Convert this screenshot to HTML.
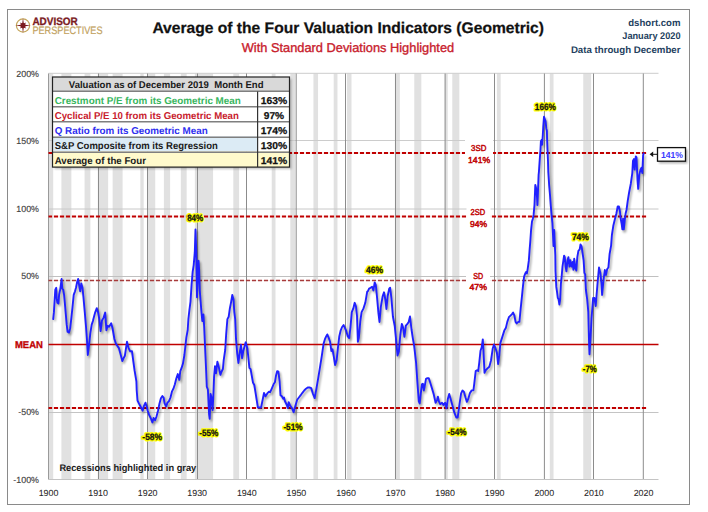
<!DOCTYPE html>
<html><head><meta charset="utf-8"><style>
html,body{margin:0;padding:0;background:#fff;width:708px;height:512px;overflow:hidden}
svg{display:block;font-family:"Liberation Sans", sans-serif}
</style></head><body>
<svg width="708" height="512" viewBox="0 0 708 512" text-rendering="geometricPrecision">
<defs><filter id="blur" x="-5%" y="-5%" width="110%" height="110%"><feGaussianBlur stdDeviation="0.9"/></filter></defs>
<rect x="0" y="0" width="708" height="512" fill="#FFFFFF"/>
<rect x="7.5" y="9.5" width="682" height="495" fill="#FFFFFF" stroke="#8A8A8A" stroke-width="1"/>

<g>
<circle cx="23" cy="25.5" r="6.6" fill="none" stroke="#C4A55A" stroke-width="1.2"/>
<path d="M23.00,17.90 L23.80,23.56 L25.97,22.53 L24.94,24.70 L30.60,25.50 L24.94,26.30 L25.97,28.47 L23.80,27.44 L23.00,33.10 L22.20,27.44 L20.03,28.47 L21.06,26.30 L15.40,25.50 L21.06,24.70 L20.03,22.53 L22.20,23.56 Z" fill="#7B1A1F"/>
<circle cx="23" cy="25.5" r="2.5" fill="#7B1A1F"/>
</g>

<text x="32.4" y="25.2" font-size="10.8" fill="#7B1A1F" font-weight="bold" text-anchor="start" textLength="45.4" lengthAdjust="spacingAndGlyphs" stroke="#7B1A1F" stroke-width="0.3">ADVISOR</text>
<text x="32.4" y="33.8" font-size="10.8" fill="#C2A260" font-weight="normal" text-anchor="start" textLength="70.1" lengthAdjust="spacingAndGlyphs" stroke="#C2A260" stroke-width="0.2">PERSPECTIVES</text>
<text x="152.4" y="33.3" font-size="15.4" fill="#111111" font-weight="bold" text-anchor="start" textLength="391.6" lengthAdjust="spacingAndGlyphs" stroke="#111" stroke-width="0.25">Average of the Four Valuation Indicators (Geometric)</text>
<text x="241.7" y="51.8" font-size="12.8" fill="#C8202C" font-weight="normal" text-anchor="start" textLength="212.5" lengthAdjust="spacingAndGlyphs" stroke="#C8202C" stroke-width="0.35">With Standard Deviations Highlighted</text>
<text x="680.5" y="25.8" font-size="9.6" fill="#243F60" font-weight="bold" text-anchor="end">dshort.com</text>
<text x="680.5" y="39.3" font-size="9.6" fill="#243F60" font-weight="bold" text-anchor="end" textLength="58.2" lengthAdjust="spacingAndGlyphs">January 2020</text>
<text x="680.5" y="52.5" font-size="9.6" fill="#243F60" font-weight="bold" text-anchor="end" textLength="109.6" lengthAdjust="spacingAndGlyphs">Data through December</text>
<rect x="48.50" y="73.5" width="4.69" height="406.0" fill="#E1E1E1"/>
<rect x="61.42" y="73.5" width="9.95" height="406.0" fill="#E1E1E1"/>
<rect x="84.56" y="73.5" width="5.82" height="406.0" fill="#E1E1E1"/>
<rect x="97.78" y="73.5" width="10.37" height="406.0" fill="#E1E1E1"/>
<rect x="112.65" y="73.5" width="9.95" height="406.0" fill="#E1E1E1"/>
<rect x="140.34" y="73.5" width="3.34" height="406.0" fill="#E1E1E1"/>
<rect x="147.36" y="73.5" width="7.89" height="406.0" fill="#E1E1E1"/>
<rect x="163.89" y="73.5" width="6.23" height="406.0" fill="#E1E1E1"/>
<rect x="180.83" y="73.5" width="5.82" height="406.0" fill="#E1E1E1"/>
<rect x="194.87" y="73.5" width="18.22" height="406.0" fill="#E1E1E1"/>
<rect x="233.30" y="73.5" width="5.82" height="406.0" fill="#E1E1E1"/>
<rect x="271.72" y="73.5" width="3.76" height="406.0" fill="#E1E1E1"/>
<rect x="290.32" y="73.5" width="4.99" height="406.0" fill="#E1E1E1"/>
<rect x="313.45" y="73.5" width="4.58" height="406.0" fill="#E1E1E1"/>
<rect x="333.70" y="73.5" width="3.76" height="406.0" fill="#E1E1E1"/>
<rect x="346.92" y="73.5" width="4.58" height="406.0" fill="#E1E1E1"/>
<rect x="394.85" y="73.5" width="4.99" height="406.0" fill="#E1E1E1"/>
<rect x="414.27" y="73.5" width="7.06" height="406.0" fill="#E1E1E1"/>
<rect x="444.84" y="73.5" width="2.93" height="406.0" fill="#E1E1E1"/>
<rect x="452.28" y="73.5" width="7.06" height="406.0" fill="#E1E1E1"/>
<rect x="496.90" y="73.5" width="3.76" height="406.0" fill="#E1E1E1"/>
<rect x="549.78" y="73.5" width="3.76" height="406.0" fill="#E1E1E1"/>
<rect x="583.25" y="73.5" width="7.89" height="406.0" fill="#E1E1E1"/>
<line x1="48.5" y1="73.3" x2="658.5" y2="73.3" stroke="#CCCCCC" stroke-width="1"/>
<line x1="48.5" y1="140.5" x2="658.5" y2="140.5" stroke="#CCCCCC" stroke-width="1"/>
<line x1="48.5" y1="209.0" x2="658.5" y2="209.0" stroke="#C8C8C8" stroke-width="1"/>
<line x1="48.5" y1="276.5" x2="658.5" y2="276.5" stroke="#C0C0C0" stroke-width="1"/>
<line x1="48.5" y1="412.5" x2="658.5" y2="412.5" stroke="#C4C4C4" stroke-width="1"/>
<line x1="98.5" y1="73.5" x2="98.5" y2="479.5" stroke="#8C8C8C" stroke-width="1"/>
<line x1="147.5" y1="73.5" x2="147.5" y2="479.5" stroke="#8C8C8C" stroke-width="1"/>
<line x1="197.5" y1="73.5" x2="197.5" y2="479.5" stroke="#8C8C8C" stroke-width="1"/>
<line x1="246.5" y1="73.5" x2="246.5" y2="479.5" stroke="#8C8C8C" stroke-width="1"/>
<line x1="296.2" y1="73.5" x2="296.2" y2="479.5" stroke="#8C8C8C" stroke-width="1"/>
<line x1="345.5" y1="73.5" x2="345.5" y2="479.5" stroke="#8C8C8C" stroke-width="1"/>
<line x1="395.5" y1="73.5" x2="395.5" y2="479.5" stroke="#8C8C8C" stroke-width="1"/>
<line x1="445.1" y1="73.5" x2="445.1" y2="479.5" stroke="#8C8C8C" stroke-width="1"/>
<line x1="494.5" y1="73.5" x2="494.5" y2="479.5" stroke="#8C8C8C" stroke-width="1"/>
<line x1="544.4" y1="73.5" x2="544.4" y2="479.5" stroke="#8C8C8C" stroke-width="1"/>
<line x1="593.5" y1="73.5" x2="593.5" y2="479.5" stroke="#8C8C8C" stroke-width="1"/>
<line x1="643.3" y1="73.5" x2="643.3" y2="479.5" stroke="#8C8C8C" stroke-width="1"/>
<line x1="48.5" y1="73.5" x2="48.5" y2="479.5" stroke="#9A9A9A" stroke-width="1"/>
<line x1="48.5" y1="479.5" x2="658.5" y2="479.5" stroke="#C4C4C4" stroke-width="1"/>
<line x1="48.5" y1="153" x2="646.5" y2="153" stroke="#C00000" stroke-width="2" stroke-dasharray="4.2 1.8" stroke-dashoffset="0.6"/>
<line x1="48.5" y1="216.5" x2="646.5" y2="216.5" stroke="#C00000" stroke-width="2" stroke-dasharray="4.2 1.8" stroke-dashoffset="0.6"/>
<line x1="48.5" y1="280.5" x2="646.5" y2="280.5" stroke="#A83A3A" stroke-width="1.3" stroke-dasharray="4.2 1.8" stroke-dashoffset="0.6"/>
<line x1="48.5" y1="408" x2="646.5" y2="408" stroke="#C00000" stroke-width="2" stroke-dasharray="4.2 1.8" stroke-dashoffset="0.6"/>
<line x1="48.5" y1="344.5" x2="658.5" y2="344.5" stroke="#C00000" stroke-width="1.6"/>
<rect x="465" y="139" width="28" height="27" fill="#FFFFFF"/>
<rect x="466.5" y="207" width="24" height="23" fill="#FFFFFF"/>
<rect x="466" y="270" width="24" height="23" fill="#FFFFFF"/>
<text x="471.1" y="151.0" font-size="8.6" fill="#C00000" font-weight="normal" text-anchor="start" textLength="15.3" lengthAdjust="spacingAndGlyphs" stroke="#C00000" stroke-width="0.45">3SD</text>
<text x="468.0" y="163.0" font-size="8.6" fill="#C00000" font-weight="normal" text-anchor="start" textLength="22.2" lengthAdjust="spacingAndGlyphs" stroke="#C00000" stroke-width="0.45">141%</text>
<text x="470.5" y="214.6" font-size="8.6" fill="#C00000" font-weight="normal" text-anchor="start" textLength="14.6" lengthAdjust="spacingAndGlyphs" stroke="#C00000" stroke-width="0.45">2SD</text>
<text x="469.9" y="227.0" font-size="8.6" fill="#C00000" font-weight="normal" text-anchor="start" textLength="17.1" lengthAdjust="spacingAndGlyphs" stroke="#C00000" stroke-width="0.45">94%</text>
<text x="473.3" y="278.5" font-size="8.6" fill="#C00000" font-weight="normal" text-anchor="start" textLength="9.9" lengthAdjust="spacingAndGlyphs" stroke="#C00000" stroke-width="0.45">SD</text>
<text x="469.5" y="290.2" font-size="8.6" fill="#C00000" font-weight="normal" text-anchor="start" textLength="17.5" lengthAdjust="spacingAndGlyphs" stroke="#C00000" stroke-width="0.45">47%</text>
<polyline points="53.2,319.1 53.9,312.4 54.4,303.6 55.3,289.6 56.2,287.8 56.7,298.4 57.4,302.8 58.4,303.6 59.1,294.8 60.2,289.6 60.9,284.3 61.6,279.0 62.3,288.7 63.2,289.6 64.1,294.8 64.9,303.6 65.8,314.2 66.7,324.7 67.6,331.8 69.0,332.6 70.2,328.2 71.4,317.7 72.5,307.1 73.7,294.8 75.0,291.3 76.0,287.8 77.2,281.7 78.1,279.0 79.0,284.3 80.2,291.3 81.3,283.4 82.5,287.8 83.4,296.6 84.8,312.4 86.0,326.5 86.9,338.8 87.8,355.0 88.7,347.6 90.1,335.3 90.3,333.4 91.7,324.6 92.9,321.1 93.8,317.5 95.2,312.3 96.8,308.2 98.2,312.6 99.4,319.6 100.6,331.1 102.0,320.5 103.5,317.9 105.2,312.6 106.4,330.2 107.7,325.8 109.1,326.7 111.2,323.2 112.6,328.5 114.4,339.0 115.8,343.4 117.5,346.1 118.8,347.8 120.5,354.0 122.3,361.0 123.5,358.4 124.9,355.7 127.0,341.7 128.5,347.8 130.2,351.3 132.0,351.3 133.4,361.9 134.6,370.7 136.4,381.3 136.7,390.2 137.5,400.5 138.9,403.4 140.4,406.3 142.6,410.7 144.1,405.6 145.5,402.7 146.6,406.3 147.7,410.7 149.2,415.1 150.7,418.0 152.4,422.4 153.6,418.0 155.1,420.2 156.5,416.6 158.0,410.7 159.5,403.4 160.9,398.3 162.4,396.1 163.6,397.5 164.6,403.4 166.1,406.3 167.5,402.7 169.0,401.2 170.5,397.5 171.9,391.7 173.4,388.7 174.9,384.3 176.3,378.5 177.8,374.1 179.3,379.9 180.3,371.1 181.5,368.2 182.9,363.8 184.4,355.0 186.3,337.8 187.7,330.0 188.4,318.8 189.4,310.2 190.5,301.6 191.6,284.4 192.7,271.6 193.7,265.1 194.8,252.2 195.5,229.5 196.3,252.2 197.0,297.3 197.6,282.3 198.5,260.8 199.1,269.4 199.8,290.9 201.3,310.2 202.3,321.0 203.4,314.5 204.2,327.3 205.2,350.0 206.2,372.0 206.8,386.6 207.9,389.5 209.1,414.4 209.7,418.8 210.6,393.9 211.6,398.3 212.6,410.0 213.5,392.4 214.1,376.3 215.0,366.1 216.0,373.4 217.4,361.7 218.9,367.6 220.4,374.9 221.4,372.0 222.9,369.0 223.7,360.2 225.2,350.0 226.2,333.8 227.4,319.1 228.7,316.7 229.9,308.2 231.1,302.1 232.3,295.0 233.5,299.6 234.3,311.8 235.2,319.1 236.0,338.7 237.2,353.3 238.4,363.0 239.6,353.3 240.9,344.8 242.1,358.2 243.3,350.9 245.7,342.3 247.4,348.4 249.4,367.9 250.6,369.1 253.0,382.6 254.3,385.0 255.5,392.3 257.9,407.5 261.1,407.5 264.0,393.0 265.5,396.3 267.3,393.4 269.0,391.6 270.2,392.2 272.0,388.1 273.7,384.0 274.9,382.3 276.1,375.2 277.2,371.1 278.4,371.7 279.6,381.1 280.5,395.2 281.9,396.3 283.1,398.7 284.0,397.5 284.9,401.0 286.6,404.5 287.8,408.0 288.7,402.2 290.1,405.7 291.9,408.0 293.6,412.2 295.4,405.7 297.2,399.8 298.9,397.5 300.7,395.2 302.4,392.8 304.2,390.5 306.0,388.7 307.7,387.5 309.5,387.5 311.2,388.1 313.0,394.0 314.7,398.1 316.5,388.1 318.3,377.6 319.9,367.8 321.7,356.6 323.6,343.6 325.0,339.0 326.3,336.2 327.3,334.4 328.8,338.1 330.1,341.8 331.4,351.1 332.5,349.2 333.8,356.6 335.1,365.0 336.6,360.3 338.0,347.4 339.3,336.2 340.6,330.7 342.1,327.0 343.6,325.1 344.9,327.9 346.2,330.7 347.7,336.2 349.2,338.1 350.5,327.0 351.8,312.1 353.3,308.4 354.7,302.8 356.0,306.5 357.0,315.8 357.9,341.8 358.8,338.1 360.3,321.4 361.6,312.1 363.5,308.4 365.3,302.8 367.2,291.7 367.8,291.4 369.1,288.6 370.6,287.7 372.1,286.7 373.4,290.4 374.7,282.5 375.8,284.9 377.1,297.9 378.4,312.7 379.5,322.0 380.8,307.2 382.7,296.0 384.0,292.3 385.4,299.7 386.4,309.0 387.7,296.0 389.2,288.6 390.1,287.7 391.4,297.9 392.9,316.5 394.7,325.7 396.2,340.6 397.5,355.5 398.8,351.8 400.3,335.0 401.8,323.9 403.1,327.6 404.4,336.9 405.9,325.7 407.4,323.9 408.7,322.0 410.0,316.5 411.5,329.5 412.9,338.7 414.2,346.2 416.1,362.9 417.4,382.3 418.8,401.4 419.7,403.5 420.8,393.3 421.9,384.4 422.9,383.7 423.8,390.5 424.9,385.1 426.0,378.9 427.4,378.2 428.8,378.2 430.1,382.3 431.8,387.8 433.8,394.6 435.6,402.8 437.0,400.1 437.9,396.7 438.9,401.4 440.2,404.2 442.0,402.8 443.4,404.9 445.1,402.8 446.5,408.3 447.9,398.7 449.2,393.9 450.6,398.7 452.3,404.9 454.3,412.4 456.3,417.5 457.7,417.5 459.1,406.9 461.1,393.3 462.5,390.5 464.0,391.9 465.5,397.5 466.9,401.9 468.2,399.2 469.9,393.1 471.7,390.4 473.4,390.4 474.3,383.4 475.7,371.1 477.0,370.2 478.2,371.1 479.3,362.3 480.5,350.8 481.7,347.3 482.8,339.4 483.5,351.7 484.5,372.8 485.8,370.2 487.5,368.4 489.3,366.7 491.0,360.5 492.8,348.2 494.0,344.6 495.5,348.2 496.9,352.6 498.1,364.0 499.3,355.2 500.4,342.9 502.1,337.6 504.3,330.6 505.8,328.1 507.3,321.9 508.9,317.2 510.5,315.6 512.0,314.1 513.1,312.5 514.4,315.6 515.6,321.9 516.7,323.4 518.3,321.9 519.4,321.9 520.6,309.4 521.9,296.9 523.0,285.9 524.1,276.6 525.3,273.4 526.1,271.9 526.9,273.4 527.7,268.8 528.8,260.9 529.5,251.4 530.3,241.4 531.1,229.8 532.0,221.5 532.8,219.0 533.6,214.9 534.5,204.9 535.3,185.0 536.1,188.3 537.0,196.6 537.4,205.0 537.9,193.3 538.6,175.0 538.9,172.0 539.8,158.9 540.5,149.5 540.9,141.3 541.6,140.1 542.1,144.8 542.8,135.4 543.3,126.1 544.0,116.7 544.8,119.0 545.6,121.4 546.3,128.4 546.9,130.8 547.1,139.0 547.5,149.5 548.0,161.2 548.3,172.0 549.2,185.6 550.0,195.0 550.8,205.9 551.6,215.3 552.4,223.1 553.0,235.0 553.5,246.0 554.2,230.0 554.6,240.0 555.3,255.0 555.5,271.3 556.3,286.9 557.0,291.6 557.8,297.8 558.6,299.4 559.4,304.5 560.2,299.4 560.9,283.8 561.7,275.9 562.5,266.6 564.1,255.6 564.8,257.2 565.6,266.6 566.4,271.3 567.5,260.3 568.4,257.2 569.5,266.6 570.3,260.3 571.6,266.6 572.7,261.9 573.4,269.7 574.2,258.8 575.3,268.1 576.3,270.5 577.3,257.2 578.4,250.9 579.7,249.4 580.5,244.5 581.6,246.3 582.5,252.5 583.6,260.3 584.4,272.8 585.2,274.4 585.9,290.0 587.2,299.4 588.3,311.9 588.6,324.9 589.1,344.5 589.5,354.2 590.5,338.6 591.5,319.0 593.1,298.0 594.4,298.0 595.7,306.0 597.4,285.0 599.0,267.5 600.4,273.0 601.5,284.0 602.1,295.0 603.4,281.0 604.8,270.0 605.9,275.0 607.2,269.0 608.4,267.5 609.6,254.0 611.1,245.6 611.9,235.0 613.3,225.8 615.0,218.8 616.4,213.5 617.7,206.5 618.9,206.5 620.0,211.8 620.7,218.8 621.7,224.1 622.4,229.4 623.1,218.8 623.8,229.4 624.7,220.6 625.6,213.5 626.5,210.0 627.7,201.2 629.1,192.5 630.8,183.7 632.3,173.1 633.0,160.8 634.0,159.1 634.7,169.6 635.8,156.4 636.5,157.3 637.5,180.1 638.2,188.9 639.3,174.9 640.5,169.6 641.4,167.8 642.3,173.1 643.1,155.5 643.6,153.5" fill="none" stroke="rgba(0,0,0,0.35)" stroke-width="2" stroke-linejoin="round" transform="translate(1.5,2)" filter="url(#blur)"/>
<polyline points="53.2,319.1 53.9,312.4 54.4,303.6 55.3,289.6 56.2,287.8 56.7,298.4 57.4,302.8 58.4,303.6 59.1,294.8 60.2,289.6 60.9,284.3 61.6,279.0 62.3,288.7 63.2,289.6 64.1,294.8 64.9,303.6 65.8,314.2 66.7,324.7 67.6,331.8 69.0,332.6 70.2,328.2 71.4,317.7 72.5,307.1 73.7,294.8 75.0,291.3 76.0,287.8 77.2,281.7 78.1,279.0 79.0,284.3 80.2,291.3 81.3,283.4 82.5,287.8 83.4,296.6 84.8,312.4 86.0,326.5 86.9,338.8 87.8,355.0 88.7,347.6 90.1,335.3 90.3,333.4 91.7,324.6 92.9,321.1 93.8,317.5 95.2,312.3 96.8,308.2 98.2,312.6 99.4,319.6 100.6,331.1 102.0,320.5 103.5,317.9 105.2,312.6 106.4,330.2 107.7,325.8 109.1,326.7 111.2,323.2 112.6,328.5 114.4,339.0 115.8,343.4 117.5,346.1 118.8,347.8 120.5,354.0 122.3,361.0 123.5,358.4 124.9,355.7 127.0,341.7 128.5,347.8 130.2,351.3 132.0,351.3 133.4,361.9 134.6,370.7 136.4,381.3 136.7,390.2 137.5,400.5 138.9,403.4 140.4,406.3 142.6,410.7 144.1,405.6 145.5,402.7 146.6,406.3 147.7,410.7 149.2,415.1 150.7,418.0 152.4,422.4 153.6,418.0 155.1,420.2 156.5,416.6 158.0,410.7 159.5,403.4 160.9,398.3 162.4,396.1 163.6,397.5 164.6,403.4 166.1,406.3 167.5,402.7 169.0,401.2 170.5,397.5 171.9,391.7 173.4,388.7 174.9,384.3 176.3,378.5 177.8,374.1 179.3,379.9 180.3,371.1 181.5,368.2 182.9,363.8 184.4,355.0 186.3,337.8 187.7,330.0 188.4,318.8 189.4,310.2 190.5,301.6 191.6,284.4 192.7,271.6 193.7,265.1 194.8,252.2 195.5,229.5 196.3,252.2 197.0,297.3 197.6,282.3 198.5,260.8 199.1,269.4 199.8,290.9 201.3,310.2 202.3,321.0 203.4,314.5 204.2,327.3 205.2,350.0 206.2,372.0 206.8,386.6 207.9,389.5 209.1,414.4 209.7,418.8 210.6,393.9 211.6,398.3 212.6,410.0 213.5,392.4 214.1,376.3 215.0,366.1 216.0,373.4 217.4,361.7 218.9,367.6 220.4,374.9 221.4,372.0 222.9,369.0 223.7,360.2 225.2,350.0 226.2,333.8 227.4,319.1 228.7,316.7 229.9,308.2 231.1,302.1 232.3,295.0 233.5,299.6 234.3,311.8 235.2,319.1 236.0,338.7 237.2,353.3 238.4,363.0 239.6,353.3 240.9,344.8 242.1,358.2 243.3,350.9 245.7,342.3 247.4,348.4 249.4,367.9 250.6,369.1 253.0,382.6 254.3,385.0 255.5,392.3 257.9,407.5 261.1,407.5 264.0,393.0 265.5,396.3 267.3,393.4 269.0,391.6 270.2,392.2 272.0,388.1 273.7,384.0 274.9,382.3 276.1,375.2 277.2,371.1 278.4,371.7 279.6,381.1 280.5,395.2 281.9,396.3 283.1,398.7 284.0,397.5 284.9,401.0 286.6,404.5 287.8,408.0 288.7,402.2 290.1,405.7 291.9,408.0 293.6,412.2 295.4,405.7 297.2,399.8 298.9,397.5 300.7,395.2 302.4,392.8 304.2,390.5 306.0,388.7 307.7,387.5 309.5,387.5 311.2,388.1 313.0,394.0 314.7,398.1 316.5,388.1 318.3,377.6 319.9,367.8 321.7,356.6 323.6,343.6 325.0,339.0 326.3,336.2 327.3,334.4 328.8,338.1 330.1,341.8 331.4,351.1 332.5,349.2 333.8,356.6 335.1,365.0 336.6,360.3 338.0,347.4 339.3,336.2 340.6,330.7 342.1,327.0 343.6,325.1 344.9,327.9 346.2,330.7 347.7,336.2 349.2,338.1 350.5,327.0 351.8,312.1 353.3,308.4 354.7,302.8 356.0,306.5 357.0,315.8 357.9,341.8 358.8,338.1 360.3,321.4 361.6,312.1 363.5,308.4 365.3,302.8 367.2,291.7 367.8,291.4 369.1,288.6 370.6,287.7 372.1,286.7 373.4,290.4 374.7,282.5 375.8,284.9 377.1,297.9 378.4,312.7 379.5,322.0 380.8,307.2 382.7,296.0 384.0,292.3 385.4,299.7 386.4,309.0 387.7,296.0 389.2,288.6 390.1,287.7 391.4,297.9 392.9,316.5 394.7,325.7 396.2,340.6 397.5,355.5 398.8,351.8 400.3,335.0 401.8,323.9 403.1,327.6 404.4,336.9 405.9,325.7 407.4,323.9 408.7,322.0 410.0,316.5 411.5,329.5 412.9,338.7 414.2,346.2 416.1,362.9 417.4,382.3 418.8,401.4 419.7,403.5 420.8,393.3 421.9,384.4 422.9,383.7 423.8,390.5 424.9,385.1 426.0,378.9 427.4,378.2 428.8,378.2 430.1,382.3 431.8,387.8 433.8,394.6 435.6,402.8 437.0,400.1 437.9,396.7 438.9,401.4 440.2,404.2 442.0,402.8 443.4,404.9 445.1,402.8 446.5,408.3 447.9,398.7 449.2,393.9 450.6,398.7 452.3,404.9 454.3,412.4 456.3,417.5 457.7,417.5 459.1,406.9 461.1,393.3 462.5,390.5 464.0,391.9 465.5,397.5 466.9,401.9 468.2,399.2 469.9,393.1 471.7,390.4 473.4,390.4 474.3,383.4 475.7,371.1 477.0,370.2 478.2,371.1 479.3,362.3 480.5,350.8 481.7,347.3 482.8,339.4 483.5,351.7 484.5,372.8 485.8,370.2 487.5,368.4 489.3,366.7 491.0,360.5 492.8,348.2 494.0,344.6 495.5,348.2 496.9,352.6 498.1,364.0 499.3,355.2 500.4,342.9 502.1,337.6 504.3,330.6 505.8,328.1 507.3,321.9 508.9,317.2 510.5,315.6 512.0,314.1 513.1,312.5 514.4,315.6 515.6,321.9 516.7,323.4 518.3,321.9 519.4,321.9 520.6,309.4 521.9,296.9 523.0,285.9 524.1,276.6 525.3,273.4 526.1,271.9 526.9,273.4 527.7,268.8 528.8,260.9 529.5,251.4 530.3,241.4 531.1,229.8 532.0,221.5 532.8,219.0 533.6,214.9 534.5,204.9 535.3,185.0 536.1,188.3 537.0,196.6 537.4,205.0 537.9,193.3 538.6,175.0 538.9,172.0 539.8,158.9 540.5,149.5 540.9,141.3 541.6,140.1 542.1,144.8 542.8,135.4 543.3,126.1 544.0,116.7 544.8,119.0 545.6,121.4 546.3,128.4 546.9,130.8 547.1,139.0 547.5,149.5 548.0,161.2 548.3,172.0 549.2,185.6 550.0,195.0 550.8,205.9 551.6,215.3 552.4,223.1 553.0,235.0 553.5,246.0 554.2,230.0 554.6,240.0 555.3,255.0 555.5,271.3 556.3,286.9 557.0,291.6 557.8,297.8 558.6,299.4 559.4,304.5 560.2,299.4 560.9,283.8 561.7,275.9 562.5,266.6 564.1,255.6 564.8,257.2 565.6,266.6 566.4,271.3 567.5,260.3 568.4,257.2 569.5,266.6 570.3,260.3 571.6,266.6 572.7,261.9 573.4,269.7 574.2,258.8 575.3,268.1 576.3,270.5 577.3,257.2 578.4,250.9 579.7,249.4 580.5,244.5 581.6,246.3 582.5,252.5 583.6,260.3 584.4,272.8 585.2,274.4 585.9,290.0 587.2,299.4 588.3,311.9 588.6,324.9 589.1,344.5 589.5,354.2 590.5,338.6 591.5,319.0 593.1,298.0 594.4,298.0 595.7,306.0 597.4,285.0 599.0,267.5 600.4,273.0 601.5,284.0 602.1,295.0 603.4,281.0 604.8,270.0 605.9,275.0 607.2,269.0 608.4,267.5 609.6,254.0 611.1,245.6 611.9,235.0 613.3,225.8 615.0,218.8 616.4,213.5 617.7,206.5 618.9,206.5 620.0,211.8 620.7,218.8 621.7,224.1 622.4,229.4 623.1,218.8 623.8,229.4 624.7,220.6 625.6,213.5 626.5,210.0 627.7,201.2 629.1,192.5 630.8,183.7 632.3,173.1 633.0,160.8 634.0,159.1 634.7,169.6 635.8,156.4 636.5,157.3 637.5,180.1 638.2,188.9 639.3,174.9 640.5,169.6 641.4,167.8 642.3,173.1 643.1,155.5 643.6,153.5" fill="none" stroke="#2020FF" stroke-width="1.9" stroke-linejoin="round" stroke-linecap="round"/>
<text x="195.2" y="220.8" font-size="9.2" font-weight="bold" text-anchor="middle" textLength="16.1" lengthAdjust="spacingAndGlyphs" fill="#FFFF00" stroke="#FFFF00" stroke-width="3" stroke-linejoin="round">84%</text><text x="195.2" y="220.8" font-size="9.2" font-weight="bold" text-anchor="middle" textLength="16.1" lengthAdjust="spacingAndGlyphs" fill="#141414" stroke="#141414" stroke-width="0.3">84%</text>
<text x="374.5" y="272.6" font-size="9.2" font-weight="bold" text-anchor="middle" textLength="16.9" lengthAdjust="spacingAndGlyphs" fill="#FFFF00" stroke="#FFFF00" stroke-width="3" stroke-linejoin="round">46%</text><text x="374.5" y="272.6" font-size="9.2" font-weight="bold" text-anchor="middle" textLength="16.9" lengthAdjust="spacingAndGlyphs" fill="#141414" stroke="#141414" stroke-width="0.3">46%</text>
<text x="545.3" y="109.7" font-size="9.2" font-weight="bold" text-anchor="middle" textLength="20.9" lengthAdjust="spacingAndGlyphs" fill="#FFFF00" stroke="#FFFF00" stroke-width="3" stroke-linejoin="round">166%</text><text x="545.3" y="109.7" font-size="9.2" font-weight="bold" text-anchor="middle" textLength="20.9" lengthAdjust="spacingAndGlyphs" fill="#141414" stroke="#141414" stroke-width="0.3">166%</text>
<text x="580.4" y="240.0" font-size="9.2" font-weight="bold" text-anchor="middle" textLength="17.0" lengthAdjust="spacingAndGlyphs" fill="#FFFF00" stroke="#FFFF00" stroke-width="3" stroke-linejoin="round">74%</text><text x="580.4" y="240.0" font-size="9.2" font-weight="bold" text-anchor="middle" textLength="17.0" lengthAdjust="spacingAndGlyphs" fill="#141414" stroke="#141414" stroke-width="0.3">74%</text>
<text x="589.7" y="371.8" font-size="9.2" font-weight="bold" text-anchor="middle" textLength="13.7" lengthAdjust="spacingAndGlyphs" fill="#FFFF00" stroke="#FFFF00" stroke-width="3" stroke-linejoin="round">-7%</text><text x="589.7" y="371.8" font-size="9.2" font-weight="bold" text-anchor="middle" textLength="13.7" lengthAdjust="spacingAndGlyphs" fill="#141414" stroke="#141414" stroke-width="0.3">-7%</text>
<text x="152.2" y="439.8" font-size="9.2" font-weight="bold" text-anchor="middle" textLength="19.7" lengthAdjust="spacingAndGlyphs" fill="#FFFF00" stroke="#FFFF00" stroke-width="3" stroke-linejoin="round">-58%</text><text x="152.2" y="439.8" font-size="9.2" font-weight="bold" text-anchor="middle" textLength="19.7" lengthAdjust="spacingAndGlyphs" fill="#141414" stroke="#141414" stroke-width="0.3">-58%</text>
<text x="208.8" y="436.2" font-size="9.2" font-weight="bold" text-anchor="middle" textLength="19.0" lengthAdjust="spacingAndGlyphs" fill="#FFFF00" stroke="#FFFF00" stroke-width="3" stroke-linejoin="round">-55%</text><text x="208.8" y="436.2" font-size="9.2" font-weight="bold" text-anchor="middle" textLength="19.0" lengthAdjust="spacingAndGlyphs" fill="#141414" stroke="#141414" stroke-width="0.3">-55%</text>
<text x="292.9" y="429.8" font-size="9.2" font-weight="bold" text-anchor="middle" textLength="19.0" lengthAdjust="spacingAndGlyphs" fill="#FFFF00" stroke="#FFFF00" stroke-width="3" stroke-linejoin="round">-51%</text><text x="292.9" y="429.8" font-size="9.2" font-weight="bold" text-anchor="middle" textLength="19.0" lengthAdjust="spacingAndGlyphs" fill="#141414" stroke="#141414" stroke-width="0.3">-51%</text>
<text x="456.9" y="434.8" font-size="9.2" font-weight="bold" text-anchor="middle" textLength="18.9" lengthAdjust="spacingAndGlyphs" fill="#FFFF00" stroke="#FFFF00" stroke-width="3" stroke-linejoin="round">-54%</text><text x="456.9" y="434.8" font-size="9.2" font-weight="bold" text-anchor="middle" textLength="18.9" lengthAdjust="spacingAndGlyphs" fill="#141414" stroke="#141414" stroke-width="0.3">-54%</text>
<text x="39.0" y="77.0" font-size="8.9" fill="#404040" font-weight="normal" text-anchor="end" stroke="#404040" stroke-width="0.12">200%</text>
<text x="39.0" y="144.0" font-size="8.9" fill="#404040" font-weight="normal" text-anchor="end" stroke="#404040" stroke-width="0.12">150%</text>
<text x="39.0" y="211.5" font-size="8.9" fill="#404040" font-weight="normal" text-anchor="end" stroke="#404040" stroke-width="0.12">100%</text>
<text x="39.0" y="279.3" font-size="8.9" fill="#404040" font-weight="normal" text-anchor="end" stroke="#404040" stroke-width="0.12">50%</text>
<text x="39.0" y="414.6" font-size="8.9" fill="#404040" font-weight="normal" text-anchor="end" stroke="#404040" stroke-width="0.12">-50%</text>
<text x="39.0" y="483.2" font-size="8.9" fill="#404040" font-weight="normal" text-anchor="end" stroke="#404040" stroke-width="0.12">-100%</text>
<text x="14.9" y="348.0" font-size="10" fill="#C00000" font-weight="bold" text-anchor="start" textLength="28.0" lengthAdjust="spacingAndGlyphs" stroke="#C00000" stroke-width="0.3">MEAN</text>
<text x="48.5" y="496.0" font-size="8.9" fill="#262626" font-weight="normal" text-anchor="middle" stroke="#262626" stroke-width="0.05">1900</text>
<text x="98.1" y="496.0" font-size="8.9" fill="#262626" font-weight="normal" text-anchor="middle" stroke="#262626" stroke-width="0.05">1910</text>
<text x="147.7" y="496.0" font-size="8.9" fill="#262626" font-weight="normal" text-anchor="middle" stroke="#262626" stroke-width="0.05">1920</text>
<text x="197.2" y="496.0" font-size="8.9" fill="#262626" font-weight="normal" text-anchor="middle" stroke="#262626" stroke-width="0.05">1930</text>
<text x="246.8" y="496.0" font-size="8.9" fill="#262626" font-weight="normal" text-anchor="middle" stroke="#262626" stroke-width="0.05">1940</text>
<text x="296.4" y="496.0" font-size="8.9" fill="#262626" font-weight="normal" text-anchor="middle" stroke="#262626" stroke-width="0.05">1950</text>
<text x="346.0" y="496.0" font-size="8.9" fill="#262626" font-weight="normal" text-anchor="middle" stroke="#262626" stroke-width="0.05">1960</text>
<text x="395.6" y="496.0" font-size="8.9" fill="#262626" font-weight="normal" text-anchor="middle" stroke="#262626" stroke-width="0.05">1970</text>
<text x="445.1" y="496.0" font-size="8.9" fill="#262626" font-weight="normal" text-anchor="middle" stroke="#262626" stroke-width="0.05">1980</text>
<text x="494.7" y="496.0" font-size="8.9" fill="#262626" font-weight="normal" text-anchor="middle" stroke="#262626" stroke-width="0.05">1990</text>
<text x="544.3" y="496.0" font-size="8.9" fill="#262626" font-weight="normal" text-anchor="middle" stroke="#262626" stroke-width="0.05">2000</text>
<text x="593.9" y="496.0" font-size="8.9" fill="#262626" font-weight="normal" text-anchor="middle" stroke="#262626" stroke-width="0.05">2010</text>
<text x="643.5" y="496.0" font-size="8.9" fill="#262626" font-weight="normal" text-anchor="middle" stroke="#262626" stroke-width="0.05">2020</text>
<text x="59.4" y="470.8" font-size="9.6" fill="#1A1A1A" font-weight="bold" text-anchor="start" textLength="136.8" lengthAdjust="spacingAndGlyphs">Recessions highlighted in gray</text>
<rect x="54.5" y="79" width="237.0" height="90.1" fill="rgba(0,0,0,0.25)" filter="url(#blur)"/>
<rect x="52.5" y="77" width="237.0" height="14.5" fill="#D9D9D9"/>
<rect x="52.5" y="91.5" width="237.0" height="60" fill="#FFFFFF"/>
<rect x="52.5" y="136.5" width="205.10000000000002" height="15" fill="#DCEBF5"/>
<rect x="52.5" y="151.5" width="237.0" height="15.599999999999994" fill="#FFFACC"/>
<line x1="52.5" y1="91.3" x2="289.5" y2="91.3" stroke="#7F7F7F" stroke-width="1.6"/>
<line x1="52.5" y1="106.8" x2="289.5" y2="106.8" stroke="#7F7F7F" stroke-width="1.6"/>
<line x1="52.5" y1="121.8" x2="289.5" y2="121.8" stroke="#7F7F7F" stroke-width="1.6"/>
<line x1="52.5" y1="137.2" x2="289.5" y2="137.2" stroke="#7F7F7F" stroke-width="1.6"/>
<line x1="52.5" y1="152.2" x2="289.5" y2="152.2" stroke="#7F7F7F" stroke-width="1.6"/>
<line x1="257.6" y1="91.5" x2="257.6" y2="167.1" stroke="#333333" stroke-width="1.2"/>
<rect x="52.5" y="77" width="237.0" height="90.1" fill="none" stroke="#222222" stroke-width="1.2"/>
<text x="68.8" y="87.7" font-size="9.8" fill="#1A1A1A" font-weight="bold" text-anchor="start" textLength="194.7" lengthAdjust="spacingAndGlyphs" xml:space="preserve">Valuation as of December 2019  Month End</text>
<text x="54.7" y="103.6" font-size="10" fill="#38B65E" font-weight="bold" text-anchor="start" textLength="186.1" lengthAdjust="spacingAndGlyphs">Crestmont P/E from its Geometric Mean</text>
<text x="274.0" y="103.6" font-size="10" fill="#111111" font-weight="bold" text-anchor="middle" textLength="26.4" lengthAdjust="spacingAndGlyphs" stroke="#111" stroke-width="0.25">163%</text>
<text x="54.7" y="118.6" font-size="10" fill="#C8202C" font-weight="bold" text-anchor="start" textLength="184.2" lengthAdjust="spacingAndGlyphs">Cyclical P/E 10 from its Geometric Mean</text>
<text x="274.0" y="118.6" font-size="10" fill="#111111" font-weight="bold" text-anchor="middle" textLength="20.3" lengthAdjust="spacingAndGlyphs" stroke="#111" stroke-width="0.25">97%</text>
<text x="54.7" y="133.6" font-size="10" fill="#2E2EF0" font-weight="bold" text-anchor="start" textLength="153.0" lengthAdjust="spacingAndGlyphs">Q Ratio from its Geometric Mean</text>
<text x="274.0" y="133.6" font-size="10" fill="#111111" font-weight="bold" text-anchor="middle" textLength="26.4" lengthAdjust="spacingAndGlyphs" stroke="#111" stroke-width="0.25">174%</text>
<text x="54.7" y="148.6" font-size="10" fill="#1A1A1A" font-weight="bold" text-anchor="start" textLength="163.2" lengthAdjust="spacingAndGlyphs">S&amp;P Composite from its Regression</text>
<text x="274.0" y="148.6" font-size="10" fill="#111111" font-weight="bold" text-anchor="middle" textLength="26.4" lengthAdjust="spacingAndGlyphs" stroke="#111" stroke-width="0.25">130%</text>
<text x="54.7" y="163.6" font-size="10" fill="#1A1A1A" font-weight="bold" text-anchor="start" textLength="91.3" lengthAdjust="spacingAndGlyphs">Average of the Four</text>
<text x="274.0" y="163.6" font-size="10" fill="#111111" font-weight="bold" text-anchor="middle" textLength="26.4" lengthAdjust="spacingAndGlyphs" stroke="#111" stroke-width="0.25">141%</text>
<rect x="659" y="149.4" width="28.5" height="14" fill="rgba(0,0,0,0.3)" filter="url(#blur)"/>
<rect x="657.5" y="147.6" width="28" height="13.6" fill="#FFFFFF" stroke="#111111" stroke-width="1.3"/>
<text x="661.0" y="157.5" font-size="8.8" fill="#3C3CFF" font-weight="bold" text-anchor="start" textLength="22.0" lengthAdjust="spacingAndGlyphs">141%</text>
<line x1="652" y1="154.3" x2="657.5" y2="154.3" stroke="#111" stroke-width="1"/>
<path d="M649.6,154.3 L653.2,151.6 L653.2,157 Z" fill="#111"/>
</svg>
</body></html>
